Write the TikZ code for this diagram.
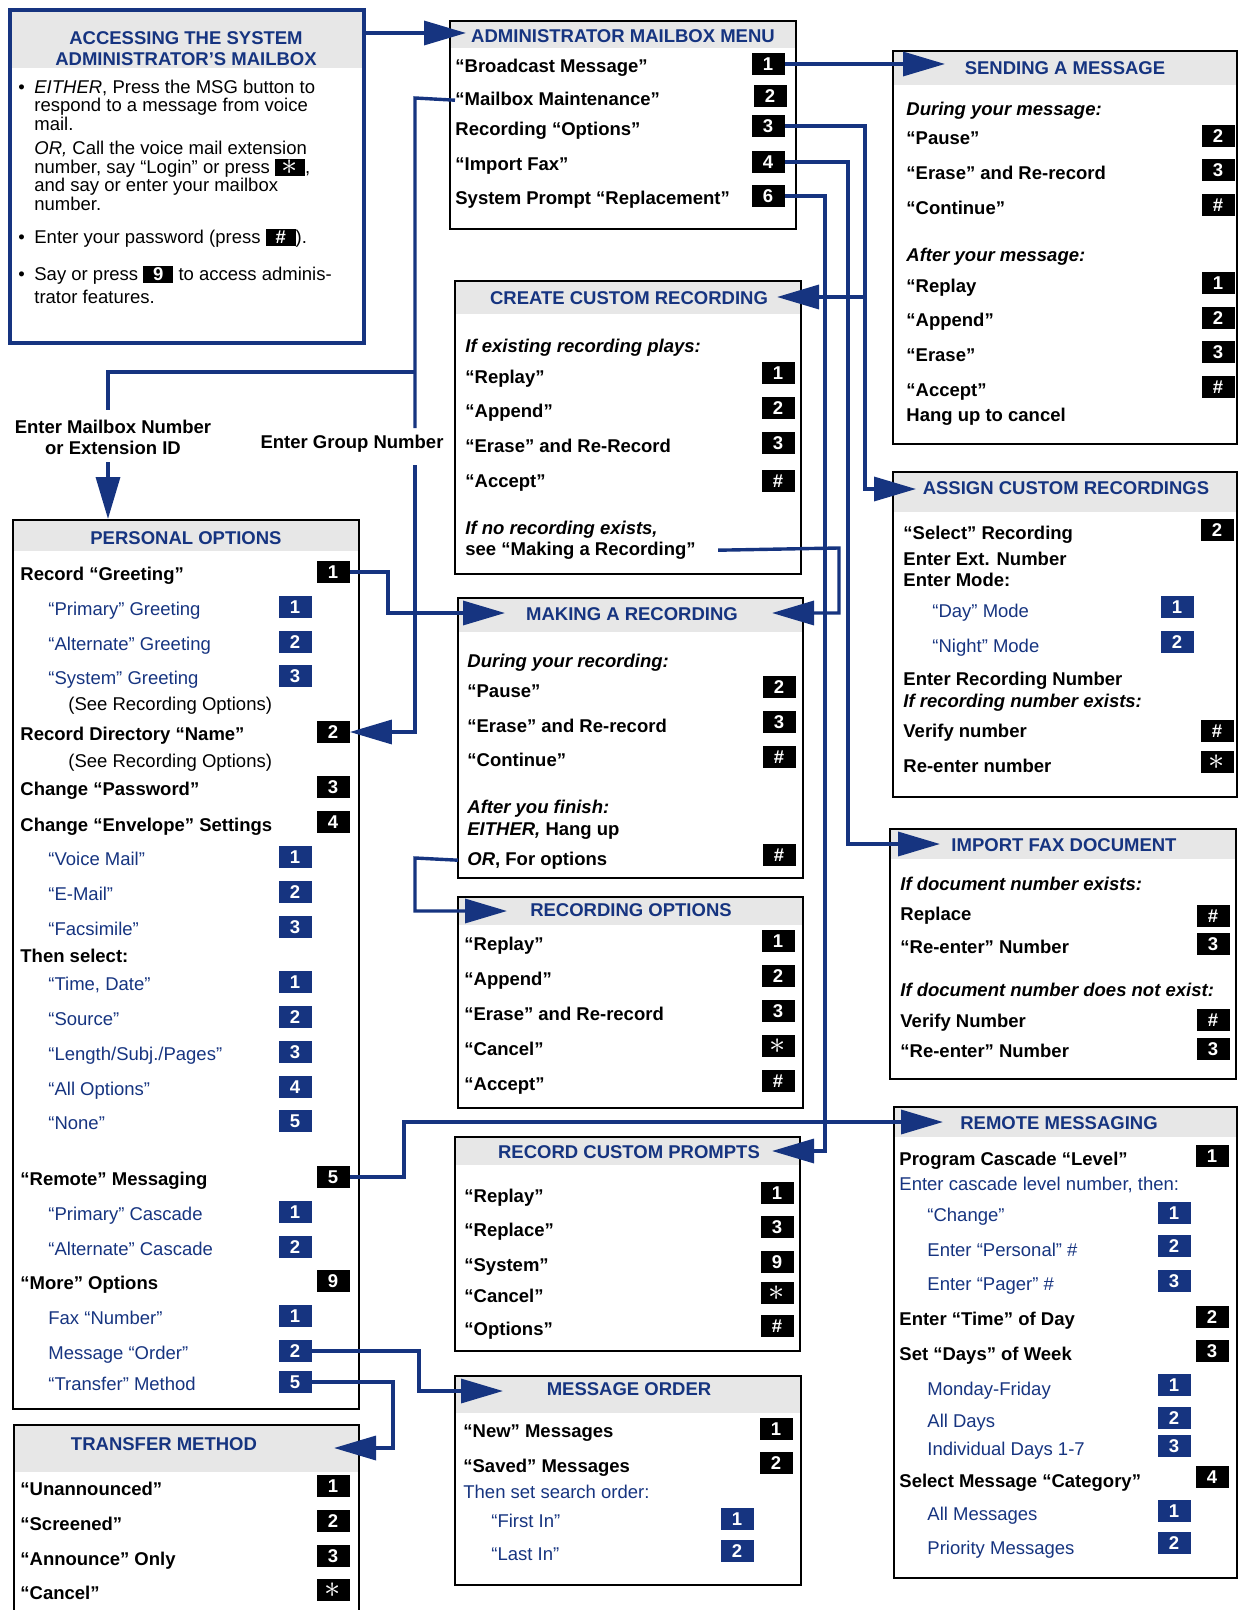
\documentclass[tikz,border=0pt]{standalone}
\usepackage{fontspec}
\setmainfont{Liberation Sans}
\usetikzlibrary{arrows.meta}

\definecolor{navy}{RGB}{22,52,128}
\definecolor{hdr}{RGB}{231,231,231}
\newcommand{\fs}{\fontsize{9.25}{10.5}\selectfont}
\newcommand{\kst}{\raisebox{-0.6pt}{\scalebox{1.75}{$\ast$}}}
\newcommand{\kb}[1]{{\fboxsep=0pt\colorbox{black}{\makebox[15pt]{\rule[-1.5pt]{0pt}{8.5pt}\textcolor{white}{\bfseries #1}}}}}
% panel: x1, y1, x2, y2, bottom of grey header
\newcommand{\panel}[5]{\fill[hdr] (#1,#2) rectangle (#3,#5); \draw[panel] (#1,#2) rectangle (#3,#4);}

\begin{document}
\begin{tikzpicture}[x=0.5pt, y=-0.5pt,
    txt/.style={anchor=west, inner sep=0pt, text height=7pt, text depth=2pt, yshift=-1.1pt, font=\fs\bfseries},
    reg/.style={txt, font=\fs},
    sub/.style={txt, font=\fs, text=navy},
    ital/.style={txt, font=\fs\bfseries\itshape},
    ttl/.style={inner sep=0pt, text height=7pt, text depth=2pt, yshift=-1.1pt, font=\fs\bfseries, text=navy},
    key/.style={fill=black, text=white, font=\fs\bfseries, minimum width=16.5pt,
        minimum height=11.3pt, inner sep=0pt, text height=6.7pt, text depth=0pt},
    bkey/.style={key, fill=navy},
    panel/.style={draw=black, line width=1.1pt},
    link/.style={draw=navy, line width=1.7pt},
    arr/.style={link, -{Triangle[length=21pt, width=12pt]}}
]
\useasboundingbox (0,0) rectangle (1238,1610);

% accessing the mailbox
\fill[hdr] (10,10) rectangle (364,68);
\draw[navy, line width=2pt] (10,10) rectangle (364,343);
\node[font=\fs\bfseries, text=navy, align=center, inner sep=0pt] (tA) at (186,48.5)
    {ACCESSING THE SYSTEM\\ADMINISTRATOR’S MAILBOX};
\foreach \y [count=\i] in {86,236,273}
    \node[reg] (bul\i) at (18,\y) {\textbullet};
\foreach \y/\t [count=\i] in {86/{\textit{EITHER}, Press the MSG button to},
    104/{respond to a message from voice}, 123/{mail.},
    147/{\textit{OR,} Call the voice mail extension},
    166/{number, say “Login” or press \kb{\kst},},
    184/{and say or enter your mailbox}, 203/{number.},
    236/{Enter your password (press \kb{\#}).},
    273/{Say or press \kb{9} to access adminis-}, 296/{trator features.}}
    \node[reg] (acc\i) at (34,\y) {\t};

% administrator menu
\panel{450}{21}{796}{229}{48}
\node[ttl] (tB) at (623,35) {ADMINISTRATOR MAILBOX MENU};
\foreach \y/\t [count=\i] in {65/{“Broadcast Message”}, 98/{“Mailbox Maintenance”},
    128/{Recording “Options”}, 163/{“Import Fax”}, 197/{System Prompt “Replacement”}}
    \node[txt] (am\i) at (455,\y) {\t};
\foreach \x/\y/\k [count=\i] in {768/64/1, 770/96/2, 768/126/3, 768/162/4, 768/196/6}
    \node[key] (ak\i) at (\x,\y) {\k};

% sending a message
\panel{893}{51}{1237}{444}{85}
\node[ttl] (tC) at (1065,67) {SENDING A MESSAGE};
\foreach \y/\s/\t [count=\i] in {108/ital/{During your message:}, 137/txt/{“Pause”},
    172/txt/{“Erase” and Re-record}, 207/txt/{“Continue”}, 254/ital/{After your message:},
    285/txt/{“Replay}, 319/txt/{“Append”}, 354/txt/{“Erase”}, 389/txt/{“Accept”},
    414/txt/{Hang up to cancel}}
    \node[\s] (sm\i) at (906,\y) {\t};
\foreach \y/\k [count=\i] in {136/2, 170/3, 205/\#, 283/1, 318/2, 352/3, 387/\#}
    \node[key] (sk\i) at (1218,\y) {\k};

% create custom recording
\panel{455}{281}{801}{574}{314}
\node[ttl] (tD) at (629,297) {CREATE CUSTOM RECORDING};
\foreach \y/\s/\t [count=\i] in {345/ital/{If existing recording plays:}, 376/txt/{“Replay”},
    410/txt/{“Append”}, 445/txt/{“Erase” and Re-Record}, 480/txt/{“Accept”},
    527/ital/{If no recording exists,}, 548/txt/{see “Making a Recording”}}
    \node[\s] (cr\i) at (465,\y) {\t};
\foreach \y/\k [count=\i] in {373/1, 408/2, 443/3, 481/\#}
    \node[key] (ck\i) at (778,\y) {\k};

% assign custom recordings
\panel{893}{472}{1237}{797}{512}
\node[ttl] (tE) at (1066,487) {ASSIGN CUSTOM RECORDINGS};
\foreach \x/\y/\s/\t [count=\i] in {903/532/txt/{“Select” Recording},
    903/558/txt/{Enter Ext. Number}, 903/579/txt/{Enter Mode:},
    932/610/sub/{“Day” Mode}, 932/645/sub/{“Night” Mode},
    903/678/txt/{Enter Recording Number}, 903/700/ital/{If recording number exists:},
    903/730/txt/{Verify number}, 903/765/txt/{Re-enter number}}
    \node[\s] (as\i) at (\x,\y) {\t};
\foreach \x/\y/\s/\k [count=\i] in {1217/530/key/2, 1177/607/bkey/1, 1177/642/bkey/2,
    1217/731/key/\#, 1217/762/key/\kst}
    \node[\s] (ask\i) at (\x,\y) {\k};

% making a recording
\panel{458}{598}{803}{878}{632}
\node[ttl] (tF) at (632,613) {MAKING A RECORDING};
\foreach \y/\s/\t [count=\i] in {660/ital/{During your recording:}, 690/txt/{“Pause”},
    725/txt/{“Erase” and Re-record}, 759/txt/{“Continue”}, 806/ital/{After you finish:},
    828/txt/{\textit{EITHER,} Hang up}, 858/txt/{\textit{OR}, For options}}
    \node[\s] (mk\i) at (467,\y) {\t};
\foreach \y/\k [count=\i] in {687/2, 722/3, 757/\#, 855/\#}
    \node[key] (mkk\i) at (779,\y) {\k};

% recording options
\panel{458}{897}{803}{1108}{925}
\node[ttl] (tG) at (631,909) {RECORDING OPTIONS};
\foreach \y/\t/\k [count=\i] in {943/{“Replay”}/1, 978/{“Append”}/2,
    1013/{“Erase” and Re-record}/3, 1048/{“Cancel”}/\kst, 1083/{“Accept”}/\#} {
    \node[txt] (ro\i) at (464,\y) {\t};
    \node[key] (rok\i) at (778,\y-2) {\k};
}

% import fax
\panel{890}{829}{1236}{1079}{859}
\node[ttl] (tH) at (1064,844) {IMPORT FAX DOCUMENT};
\foreach \y/\s/\t [count=\i] in {883/ital/{If document number exists:}, 913/txt/{Replace},
    946/txt/{“Re-enter” Number}, 989/ital/{If document number does not exist:},
    1020/txt/{Verify Number}, 1050/txt/{“Re-enter” Number}}
    \node[\s] (fx\i) at (900,\y) {\t};
\foreach \y/\k [count=\i] in {916/\#, 944/3, 1020/\#, 1049/3}
    \node[key] (fxk\i) at (1213,\y) {\k};

% record custom prompts
\panel{455}{1137}{800}{1351}{1165}
\node[ttl] (tI) at (629,1151) {RECORD CUSTOM PROMPTS};
\foreach \y/\t/\k [count=\i] in {1195/{“Replay”}/1, 1229/{“Replace”}/3, 1264/{“System”}/9,
    1295/{“Cancel”}/\kst, 1328/{“Options”}/\#} {
    \node[txt] (rp\i) at (464,\y) {\t};
    \node[key] (rpk\i) at (777,\y-2) {\k};
}

% remote messaging
\panel{894}{1107}{1237}{1578}{1137}
\node[ttl] (tJ) at (1059,1122) {REMOTE MESSAGING};
\foreach \x/\y/\s/\t [count=\i] in {899/1158/txt/{Program Cascade “Level”},
    899/1183/sub/{Enter cascade level number, then:}, 927/1214/sub/{“Change”},
    927/1249/sub/{Enter “Personal” \#}, 927/1283/sub/{Enter “Pager” \#},
    899/1318/txt/{Enter “Time” of Day}, 899/1353/txt/{Set “Days” of Week},
    927/1388/sub/{Monday-Friday}, 927/1420/sub/{All Days}, 927/1448/sub/{Individual Days 1-7},
    899/1480/txt/{Select Message “Category”}, 927/1513/sub/{All Messages},
    927/1547/sub/{Priority Messages}}
    \node[\s] (rm\i) at (\x,\y) {\t};
\foreach \x/\y/\s/\k [count=\i] in {1212/1156/key/1, 1174/1213/bkey/1, 1174/1246/bkey/2,
    1174/1281/bkey/3, 1212/1317/key/2, 1212/1351/key/3, 1174/1385/bkey/1, 1174/1418/bkey/2,
    1174/1446/bkey/3, 1212/1477/key/4, 1174/1511/bkey/1, 1174/1543/bkey/2}
    \node[\s] (rmk\i) at (\x,\y) {\k};

% message order
\panel{455}{1376}{801}{1585}{1413}
\node[ttl] (tK) at (629,1388) {MESSAGE ORDER};
\foreach \x/\y/\s/\t [count=\i] in {463/1430/txt/{“New” Messages},
    463/1465/txt/{“Saved” Messages}, 463/1491/sub/{Then set search order:},
    491/1520/sub/{“First In”}, 491/1553/sub/{“Last In”}}
    \node[\s] (mo\i) at (\x,\y) {\t};
\foreach \x/\y/\s/\k [count=\i] in {776/1429/key/1, 776/1463/key/2, 737/1519/bkey/1,
    737/1551/bkey/2}
    \node[\s] (mok\i) at (\x,\y) {\k};

% personal options
\panel{13}{520}{359}{1409}{551}
\node[ttl] (tL) at (186,537) {PERSONAL OPTIONS};
\foreach \x/\y/\s/\t [count=\i] in {20/573/txt/{Record “Greeting”},
    48/608/sub/{“Primary” Greeting}, 48/643/sub/{“Alternate” Greeting},
    48/677/sub/{“System” Greeting}, 68/703/reg/{(See Recording Options)},
    20/733/txt/{Record Directory “Name”}, 68/760/reg/{(See Recording Options)},
    20/788/txt/{Change “Password”}, 20/824/txt/{Change “Envelope” Settings},
    48/858/sub/{“Voice Mail”}, 48/893/sub/{“E-Mail”}, 48/928/sub/{“Facsimile”},
    20/955/txt/{Then select:}, 48/983/sub/{“Time, Date”}, 48/1018/sub/{“Source”},
    48/1053/sub/{“Length/Subj./Pages”}, 48/1088/sub/{“All Options”}, 48/1122/sub/{“None”},
    20/1178/txt/{“Remote” Messaging}, 48/1213/sub/{“Primary” Cascade},
    48/1248/sub/{“Alternate” Cascade}, 20/1282/txt/{“More” Options},
    48/1317/sub/{Fax “Number”}, 48/1352/sub/{Message “Order”},
    48/1383/sub/{“Transfer” Method}}
    \node[\s] (po\i) at (\x,\y) {\t};
\foreach \y/\k [count=\i] in {572/1, 732/2, 787/3, 822/4, 1177/5, 1281/9}
    \node[key] (pk\i) at (333,\y) {\k};
\foreach \y/\k [count=\i] in {607/1, 642/2, 676/3, 857/1, 892/2, 927/3, 982/1, 1017/2,
    1052/3, 1087/4, 1121/5, 1212/1, 1247/2, 1316/1, 1351/2, 1382/5}
    \node[bkey] (pb\i) at (295,\y) {\k};

% transfer method
\panel{14}{1425}{359}{1630}{1472}
\node[ttl] (tM) at (164,1443) {TRANSFER METHOD};
\foreach \y/\t/\k [count=\i] in {1488/{“Unannounced”}/1, 1523/{“Screened”}/2,
    1558/{“Announce” Only}/3, 1592/{“Cancel”}/\kst} {
    \node[txt] (tm\i) at (20,\y) {\t};
    \node[key] (tmk\i) at (333,\y-2) {\k};
}

% labels on the mailbox lines
\node[font=\fs\bfseries, align=center, inner sep=0pt] (mbx) at (113,437)
    {Enter Mailbox Number\\or Extension ID};
\node[txt, anchor=center] (grp) at (352,441) {Enter Group Number};

% connectors
\coordinate (accOut) at (364,33);
\coordinate (admIn) at (466,33);
\coordinate (sendIn) at (945,64);
\coordinate (grpTop) at (415,428);
\coordinate (grpBot) at (415,465);
\coordinate (jn) at (415,372);
\coordinate (mbxTop) at (108,410);
\coordinate (mbxBot) at (108,462);
\coordinate (persIn) at (108,519);
\coordinate (br3) at (865,297);
\coordinate (createIn) at (777,297);
\coordinate (assignIn) at (916,489);
\coordinate (faxIn) at (940,844);
\coordinate (promptIn) at (772,1151);
\coordinate (makeInL) at (505,613);
\coordinate (makeInR) at (772,613);
\coordinate (optIn) at (507,911);
\coordinate (remIn) at (943,1122);
\coordinate (ordIn) at (503,1391);
\coordinate (xferIn) at (334,1448);

\draw[arr] (accOut) -- (admIn);
\draw[arr] (ak1.east) -- (sendIn);
\draw[link] (am2.west) -- (415,98) -- (grpTop);
\draw[link] (jn) -| (mbxTop);
\draw[arr] (mbxBot) -- (persIn);
\draw[arr] (grpBot) -- (415,732) -- (pk2.east);
\draw[arr] (ak3.east) -- (865,126) -- (865,489) -- (assignIn);
\draw[arr] (br3) -- (createIn);
\draw[arr] (ak4.east) -- (848,162) -- (848,844) -- (faxIn);
\draw[arr] (ak5.east) -- (825,196) -- (825,1151) -- (promptIn);
\draw[arr] ([xshift=11pt]cr7.east) -- (839,548) -- (839,613) -- (makeInR);
\draw[arr] (pk1.east) -- (388,572) -- (388,613) -- (makeInL);
\draw[arr] ([xshift=-4.5pt]mk7.west) -- (415,858) -- (415,911) -- (optIn);
\draw[arr] (pk5.east) -- (404,1177) -- (404,1122) -- (remIn);
\draw[arr] (pb15.east) -- (419,1351) -- (419,1391) -- (ordIn);
\draw[arr] (pb16.east) -- (393,1382) -- (393,1448) -- (xferIn);
\end{tikzpicture}
\end{document}
